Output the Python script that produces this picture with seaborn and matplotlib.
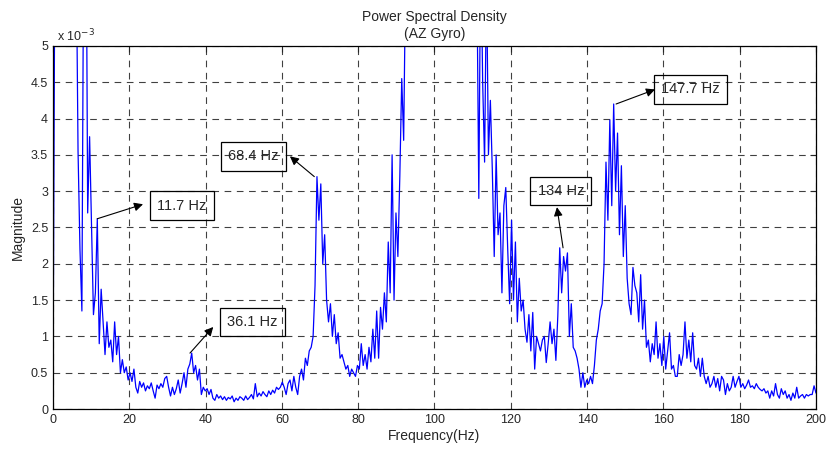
import numpy as np
import pandas as pd
import matplotlib
matplotlib.use("Agg")
import matplotlib.pyplot as plt
import seaborn as sns

# PSD magnitude (x 1e-3), one bin every 0.5 Hz
psd_000_020 = [0.3, 6.5, 9.0, 10.0, 9.5, 9.0, 8.5, 8.0, 8.0, 7.5,
               7.5, 7.0, 6.5, 3.55, 2.2, 1.35, 7.0, 8.0, 2.7, 3.75,
               2.5, 1.3, 1.6, 2.62, 0.9, 1.65, 1.2, 0.75, 1.2, 0.85,
               0.95, 0.65, 1.2, 0.75, 1.0, 0.5, 0.68, 0.5, 0.58, 0.4]
psd_020_040 = [0.5, 0.38, 0.55, 0.3, 0.22, 0.38, 0.3, 0.36, 0.25, 0.32,
               0.28, 0.36, 0.25, 0.15, 0.33, 0.28, 0.35, 0.3, 0.42, 0.45,
               0.3, 0.18, 0.3, 0.2, 0.28, 0.4, 0.22, 0.35, 0.5, 0.3,
               0.55, 0.62, 0.77, 0.5, 0.6, 0.4, 0.55, 0.2, 0.3, 0.25]
psd_040_060 = [0.28, 0.2, 0.27, 0.15, 0.12, 0.2, 0.15, 0.18, 0.13, 0.17,
               0.12, 0.16, 0.14, 0.18, 0.1, 0.15, 0.12, 0.17, 0.15, 0.12,
               0.18, 0.13, 0.16, 0.2, 0.14, 0.35, 0.17, 0.22, 0.18, 0.24,
               0.2, 0.17, 0.25, 0.2, 0.26, 0.22, 0.3, 0.27, 0.3, 0.37]
psd_060_080 = [0.3, 0.2, 0.35, 0.4, 0.25, 0.45, 0.3, 0.2, 0.45, 0.55,
               0.4, 0.7, 0.6, 0.8, 0.85, 1.0, 1.7, 3.2, 2.6, 3.1,
               2.0, 2.4, 1.5, 1.2, 1.45, 1.0, 1.3, 0.9, 1.05, 0.7,
               0.75, 0.65, 0.55, 0.6, 0.45, 0.55, 0.5, 0.45, 0.6, 0.55]
psd_080_100 = [0.9, 0.6, 0.75, 0.55, 0.85, 0.65, 1.1, 0.7, 1.35, 0.7,
               1.4, 1.1, 1.6, 1.2, 2.3, 1.6, 3.5, 1.5, 2.7, 2.1,
               3.2, 4.55, 3.7, 6.0, 7.5, 9.0, 11.0, 13.0, 15.0, 17.0,
               19.0, 21.0, 23.0, 25.0, 27.0, 28.0, 29.0, 30.0, 30.0, 30.0]
psd_100_120 = [29.0, 28.0, 27.0, 25.0, 23.0, 21.0, 19.0, 17.0, 15.0, 13.0,
               11.0, 9.5, 8.0, 7.0, 6.5, 6.0, 6.0, 6.5, 6.0, 5.5,
               6.0, 2.9, 6.5, 4.5, 3.4, 6.0, 3.5, 4.25, 3.3, 2.1,
               3.5, 2.4, 2.7, 1.6, 2.8, 3.05, 2.2, 1.45, 2.6, 1.5]
psd_120_140 = [2.3, 1.2, 1.8, 1.35, 1.5, 1.1, 0.92, 1.3, 0.8, 1.33,
               0.55, 1.0, 0.9, 0.8, 0.95, 1.0, 0.64, 0.9, 1.2, 0.9,
               1.1, 0.67, 1.28, 2.22, 1.6, 2.1, 1.9, 2.15, 1.0, 1.45,
               0.85, 0.8, 0.7, 0.55, 0.3, 0.5, 0.3, 0.4, 0.35, 0.45]
psd_140_160 = [0.35, 0.6, 0.95, 1.1, 1.35, 1.45, 2.0, 3.4, 2.6, 3.98,
               2.8, 4.2, 3.0, 3.8, 2.4, 3.35, 2.1, 2.8, 1.8, 1.45,
               1.3, 1.95, 1.7, 1.6, 1.2, 1.85, 1.1, 1.5, 0.85, 0.95,
               0.65, 0.9, 0.75, 1.2, 0.7, 0.9, 0.6, 1.0, 0.55, 0.8]
psd_160_180 = [1.05, 0.55, 0.6, 0.45, 0.45, 0.75, 0.6, 0.75, 1.2, 0.7,
               0.95, 0.65, 1.05, 0.6, 0.55, 0.7, 0.45, 0.7, 0.45, 0.35,
               0.45, 0.3, 0.35, 0.45, 0.3, 0.42, 0.25, 0.45, 0.4, 0.2,
               0.35, 0.25, 0.3, 0.45, 0.3, 0.38, 0.45, 0.3, 0.35, 0.28]
psd_180_200 = [0.33, 0.4, 0.3, 0.32, 0.28, 0.35, 0.3, 0.27, 0.25, 0.28,
               0.22, 0.25, 0.15, 0.25, 0.18, 0.35, 0.2, 0.15, 0.28, 0.2,
               0.25, 0.15, 0.2, 0.12, 0.22, 0.15, 0.3, 0.15, 0.18, 0.2,
               0.15, 0.2, 0.18, 0.2, 0.2, 0.32, 0.22]

magnitude = (psd_000_020 + psd_020_040 + psd_040_060 + psd_060_080 + psd_080_100
             + psd_100_120 + psd_120_140 + psd_140_160 + psd_160_180 + psd_180_200)
freq = np.linspace(0, 200, len(magnitude))

peak_labels = ["11.7 Hz", "36.1 Hz", "68.4 Hz", "134 Hz", "147.7 Hz"]
peak_points = [(11.6, 2.62), (35.9, 0.77), (68.5, 3.2), (133.7, 2.22), (147.6, 4.2)]
label_heads = [(23.6, 2.82), (42.0, 1.13), (62.1, 3.48), (132.1, 2.78), (157.8, 4.4)]
label_boxes = [(33.7, 2.8), (52.3, 1.2), (52.6, 3.48), (133.1, 3.0), (167.1, 4.4)]

df = pd.DataFrame({"freq": freq, "mag": magnitude})

sns.set_style("white")
plt.rcParams["font.family"] = ["Liberation Sans", "DejaVu Sans"]

fig = plt.figure(figsize=(8.28, 4.5), dpi=100)
ax = fig.add_axes([0.064, 0.091, 0.9215, 0.807])

sns.lineplot(data=df, x="freq", y="mag", ax=ax, color="#0000ff", linewidth=0.9)

ax.set_xlim(0, 200)
ax.set_ylim(0, 5)
ax.set_xticks(np.arange(0, 201, 20))
ax.set_yticks(np.arange(0, 5.01, 0.5))
ax.set_yticklabels(["0", "0.5", "1", "1.5", "2", "2.5", "3", "3.5", "4", "4.5", "5"])
ax.grid(True, color="black", linestyle=(0, (6, 5)), linewidth=0.8, alpha=0.75)
ax.tick_params(direction="in", top=True, right=True, labelsize=9, length=4, width=0.8)
for s in ax.spines.values():
    s.set_color("black")
    s.set_linewidth(0.9)

ax.set_xlabel("Frequency(Hz)", fontsize=10, labelpad=2)
ax.set_ylabel("Magnitude", fontsize=10, labelpad=4)
ax.set_title("Power Spectral Density\n(AZ Gyro)", fontsize=10, pad=6, linespacing=1.25)
ax.text(0.005, 1.005, r"x 10$^{-3}$", transform=ax.transAxes, fontsize=9,
        ha="left", va="bottom")

for label, pt, head, box in zip(peak_labels, peak_points, label_heads, label_boxes):
    ax.annotate("", xy=head, xytext=pt,
                arrowprops=dict(arrowstyle="-|>", color="black", lw=0.8,
                                mutation_scale=13, shrinkA=0, shrinkB=0))
    ax.text(box[0], box[1], label, fontsize=10.5, ha="center", va="center",
            bbox=dict(boxstyle="square,pad=0.5", fc="none", ec="black", lw=0.9))

fig.savefig("out.png", dpi=100)
